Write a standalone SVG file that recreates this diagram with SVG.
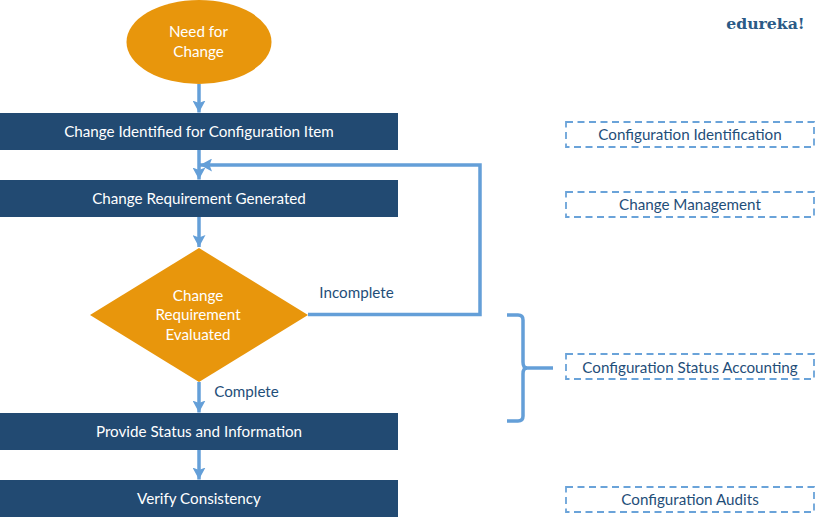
<svg xmlns="http://www.w3.org/2000/svg" width="815" height="528" viewBox="0 0 815 528">
<style>
text{font-family:Lato,"Liberation Sans",sans-serif;font-size:15.200px;text-anchor:middle}
.w{fill:#fff}
.d{fill:#1f4e79}
.box{fill:#224a72}
.or{fill:#e8960c}
.dash{fill:#fff;stroke:#6aa3d9;stroke-width:1.8;stroke-dasharray:7 4.5}
.c{fill:none;stroke:#649fd8;stroke-width:3.500}
</style>
<defs>
<marker id="a" markerUnits="userSpaceOnUse" markerWidth="13" markerHeight="13" refX="12" refY="6.500" orient="auto"><path d="M0 0L12 6.500L0 13L2.500 6.500Z" fill="#649fd8"/></marker>
</defs>
<rect width="815" height="528" fill="#fff"/>
<g id="connectors">
<path class="c" d="M199 84V112.500" marker-end="url(#a)"/>
<path class="c" d="M199 150V179.500" marker-end="url(#a)"/>
<path class="c" d="M199 217V247" marker-end="url(#a)"/>
<path class="c" d="M199 382V412.500" marker-end="url(#a)"/>
<path class="c" d="M199 450V479.500" marker-end="url(#a)"/>
<path class="c" d="M308 314.500H480V165H200" marker-end="url(#a)"/>
<path class="c" d="M507 315H518Q523 315 523 320V362Q523 368 527 368Q523 368 523 374V416Q523 421 518 421H507"/>
<path class="c" d="M526 368H553"/>
</g>
<g id="need"><ellipse class="or" cx="199" cy="42" rx="72.500" ry="42"/><text class="w" x="198.500" y="37">Need for</text><text class="w" x="198.500" y="57">Change</text></g>
<g id="identified"><rect class="box" x="0" y="113" width="398" height="37"/><text class="w" x="199" y="136.500">Change Identified for Configuration Item</text></g>
<g id="generated"><rect class="box" x="0" y="180" width="398" height="37"/><text class="w" x="199" y="203.500">Change Requirement Generated</text></g>
<g id="evaluated"><path class="or" d="M199 248L308 315L199 382L90 315Z"/><text class="w" x="198" y="300.500">Change</text><text class="w" x="198" y="320">Requirement</text><text class="w" x="198" y="339.500">Evaluated</text></g>
<g id="status"><rect class="box" x="0" y="413" width="398" height="37"/><text class="w" x="199" y="436.500">Provide Status and Information</text></g>
<g id="verify"><rect class="box" x="0" y="480" width="398" height="37"/><text class="w" x="199" y="504">Verify Consistency</text></g>
<g id="labels"><text class="d" x="356.500" y="297.500">Incomplete</text><text class="d" x="246.500" y="396.500">Complete</text></g>
<g id="cfg-id"><rect class="dash" x="566" y="122" width="248" height="25"/><text class="d" x="690" y="139.500">Configuration Identification</text></g>
<g id="cfg-mgmt"><rect class="dash" x="566" y="192" width="248" height="25"/><text class="d" x="690" y="209.500">Change Management</text></g>
<g id="cfg-status"><rect class="dash" x="566" y="354" width="248" height="25"/><text class="d" x="690" y="372.500">Configuration Status Accounting</text></g>
<g id="cfg-audits"><rect class="dash" x="566" y="487" width="248" height="25"/><text class="d" x="690" y="504.500">Configuration Audits</text></g>
<text x="765.500" y="29" style="font-family:'DejaVu Serif',serif;font-weight:700;font-size:15.700px;fill:#2a5a86">edureka!</text>
</svg>
